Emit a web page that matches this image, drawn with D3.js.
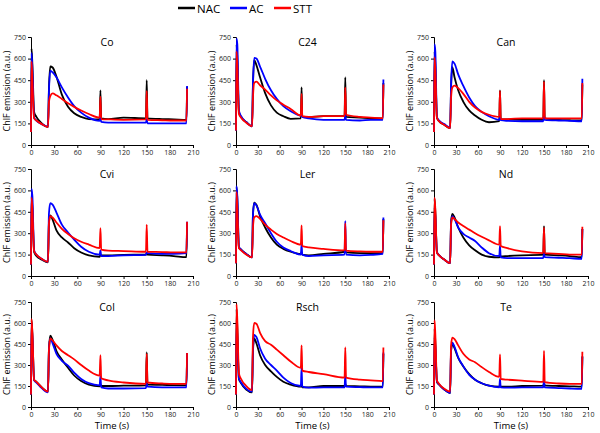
<!DOCTYPE html>
<html>
<head>
<meta charset="utf-8">
<script src="https://cdn.jsdelivr.net/npm/d3@7"></script>
<style>
  body { margin: 0; background: #fff; }
  svg text { font-family: "Open Sans", "DejaVu Sans", sans-serif; }
</style>
</head>
<body>
<div id="chart"></div>
<script>
// time points (s) shared by every trace
var times = [0, 0.7, 1.8, 4, 7, 14, 22, 23.3, 25, 28, 33, 40, 48, 56, 65, 75, 89, 90, 91, 100, 120, 149, 150, 151, 170, 185, 201.5, 202.3];

var seriesNames = ["NAC", "AC", "STT"];
var seriesColors = ["#000000", "#0000ff", "#ff0000"];
var accessions = ["Co", "C24", "Can", "Cvi", "Ler", "Nd", "Col", "Rsch", "Te"];

var xTicks = [0, 30, 60, 90, 120, 150, 180, 210];
var yTicks = [0, 150, 300, 450, 600, 750];

// ChlF traces, one array per accession / treatment
var coNAC  = [90,670,560,230,195,150,125,400, 545,538,475,350,265,220,195,180, 178,380,185,180,190,185,450,185, 180,178,175,405];
var coAC   = [90,640,520,190,170,145,128,380, 515,505,470,400,330,270,225,190, 168,190,160,155,155,155,180,150, 150,150,150,410];
var coSTT  = [90,580,450,185,170,145,125,300, 340,358,345,320,290,265,240,215, 190,335,180,178,175,178,375,175, 172,170,170,390];

var c24NAC = [100,700,600,230,195,160,130,420, 590,555,470,360,275,225,200,182, 185,400,195,195,200,200,470,195, 190,185,185,430];
var c24AC  = [100,740,700,240,200,160,130,430, 605,600,545,460,380,320,270,235, 205,215,195,185,175,175,210,175, 170,175,175,455];
var c24STT = [100,650,560,215,190,155,130,330, 430,440,415,385,345,310,280,250, 205,355,200,195,200,200,400,210, 195,190,185,420];

var canNAC = [90,650,560,190,165,140,118,400, 540,470,380,300,240,205,175,158, 165,380,180,178,175,175,450,185, 175,172,170,420];
var canAC  = [90,700,650,195,170,145,120,420, 580,565,490,410,330,270,230,200, 175,195,172,168,165,165,200,175, 170,168,165,460];
var canSTT = [90,610,520,190,165,140,118,330, 400,412,395,355,300,260,230,210, 195,375,180,180,185,185,440,185, 185,185,185,430];

var cviNAC = [80,560,480,170,140,115,95,380, 425,395,320,270,235,195,165,145, 135,150,145,145,148,150,160,150, 145,140,132,370];
var cviAC  = [80,610,560,180,150,120,100,440, 510,500,445,360,305,255,205,170, 150,180,140,140,145,148,165,160, 155,155,160,380];
var cviSTT = [80,550,470,175,150,120,100,370, 420,410,375,330,295,265,240,220, 195,335,185,178,175,170,360,170, 168,165,165,380];

var lerNAC = [90,625,540,200,185,155,130,430, 515,500,420,340,270,220,190,170, 155,165,150,145,155,170,180,165, 160,160,160,400];
var lerAC  = [90,630,560,205,185,155,130,430, 510,495,430,370,300,240,200,175, 150,220,150,140,145,150,385,150, 145,148,155,410];
var lerSTT = [90,590,480,195,180,150,130,340, 410,420,400,360,325,295,270,245, 220,355,210,200,190,180,370,178, 172,170,170,390];

var ndNAC  = [80,540,450,165,145,115,90,380, 435,410,340,270,215,180,150,135, 130,140,138,140,145,150,350,150, 145,140,132,330];
var ndAC   = [80,480,420,170,145,115,90,370, 420,400,340,295,270,245,200,160, 140,215,130,125,125,125,160,132, 128,125,120,330];
var ndSTT  = [80,550,470,165,145,115,90,360, 410,400,375,350,325,300,275,250, 220,350,210,195,172,160,340,160, 155,150,150,345];

var colNAC = [90,620,520,195,180,140,110,420, 510,480,400,340,280,225,185,160, 148,160,150,150,152,155,390,160, 158,156,155,385];
var colAC  = [90,600,500,190,175,135,105,410, 490,455,380,330,295,245,200,170, 155,220,140,132,132,135,170,145, 140,140,140,385];
var colSTT = [90,630,530,195,180,140,110,410, 490,475,440,400,370,340,300,260, 225,370,205,190,175,165,380,175, 168,165,165,385];

var rschNAC = [90,700,560,200,170,125,105,400, 490,455,370,300,255,215,180,160, 145,160,140,140,150,150,165,150, 148,146,145,380];
var rschAC  = [90,600,500,205,175,130,110,420, 515,500,420,345,300,260,210,172, 150,280,145,138,140,140,230,145, 142,140,140,390];
var rschSTT = [90,735,620,240,200,150,120,500, 600,595,530,470,445,410,370,325, 280,440,260,250,235,210,425,210, 195,190,185,425];

var teNAC  = [90,560,460,180,160,125,100,400, 450,420,350,290,235,195,170,152, 145,155,145,145,150,152,170,155, 150,148,145,360];
var teAC   = [90,500,430,185,160,125,100,410, 460,430,355,290,230,195,170,152, 140,200,140,138,140,140,190,140, 135,132,130,360];
var teSTT  = [90,620,520,190,165,130,110,440, 495,485,440,380,340,320,285,250, 215,375,200,195,188,180,400,178, 168,165,165,395];

var traces = {
  Co:   [coNAC, coAC, coSTT],
  C24:  [c24NAC, c24AC, c24STT],
  Can:  [canNAC, canAC, canSTT],
  Cvi:  [cviNAC, cviAC, cviSTT],
  Ler:  [lerNAC, lerAC, lerSTT],
  Nd:   [ndNAC, ndAC, ndSTT],
  Col:  [colNAC, colAC, colSTT],
  Rsch: [rschNAC, rschAC, rschSTT],
  Te:   [teNAC, teAC, teSTT]
};

var W = 600, H = 433;
var svg = d3.select('#chart').append('svg')
    .attr('width', W)
    .attr('height', H);

// plot area of each column / row (pixels)
var colLeft = [31, 236, 434], colRight = [193, 389, 588];
var rowTop = [37, 169, 302], rowBottom = [145, 276, 407];

accessions.forEach(function(name, i) {
    var c = i % 3, r = Math.floor(i / 3);
    var x = d3.scaleLinear().domain([0, 210]).range([colLeft[c], colRight[c]]);
    var y = d3.scaleLinear().domain([0, 750]).range([rowBottom[r], rowTop[r]]);
    var g = svg.append('g');

    var xAxis = g.append('g')
        .attr('transform', 'translate(0,' + rowBottom[r] + ')')
        .call(d3.axisBottom(x).tickValues(xTicks).tickSize(3).tickPadding(2));
    var yAxis = g.append('g')
        .attr('transform', 'translate(' + colLeft[c] + ',0)')
        .call(d3.axisLeft(y).tickValues(yTicks).tickSize(3).tickPadding(2));
    [xAxis, yAxis].forEach(function(a) {
        a.selectAll('text').style('font-size', '7px').attr('fill', '#222');
        a.selectAll('line').attr('stroke', '#000');
        a.select('.domain').attr('stroke', '#000');
    });

    g.append('text')
        .attr('x', (colLeft[c] + colRight[c]) / 2 - 5)
        .attr('y', rowTop[r] + 9)
        .attr('text-anchor', 'middle')
        .style('font-size', '10.5px')
        .text(name);

    g.append('text')
        .attr('transform', 'translate(' + (colLeft[c] - 21) + ',' + ((rowTop[r] + rowBottom[r]) / 2) + ') rotate(-90)')
        .attr('text-anchor', 'middle')
        .style('font-size', '9px')
        .text('ChlF emission (a.u.)');

    if (r === 2) {
        g.append('text')
            .attr('x', (colLeft[c] + colRight[c]) / 2)
            .attr('y', rowBottom[r] + 22)
            .attr('text-anchor', 'middle')
            .style('font-size', '9.5px')
            .text('Time (s)');
    }

    var line = d3.line()
        .x(function(d, k) { return x(times[k]); })
        .y(function(d) { return y(d); })
        .curve(d3.curveMonotoneX);

    traces[name].forEach(function(vals, s) {
        g.append('path')
            .datum(vals)
            .attr('d', line)
            .attr('fill', 'none')
            .attr('stroke', seriesColors[s])
            .attr('stroke-width', 1.8)
            .attr('stroke-linejoin', 'round');
    });
});

// legend at the top
var legendX = [178, 230, 274];
var legend = svg.append('g');
seriesNames.forEach(function(n, s) {
    legend.append('line')
        .attr('x1', legendX[s]).attr('x2', legendX[s] + 17)
        .attr('y1', 8).attr('y2', 8)
        .attr('stroke', seriesColors[s])
        .attr('stroke-width', 2.5);
    legend.append('text')
        .attr('x', legendX[s] + 19)
        .attr('y', 12.5)
        .style('font-size', '11.5px')
        .text(n);
});
</script>
</body>
</html>
